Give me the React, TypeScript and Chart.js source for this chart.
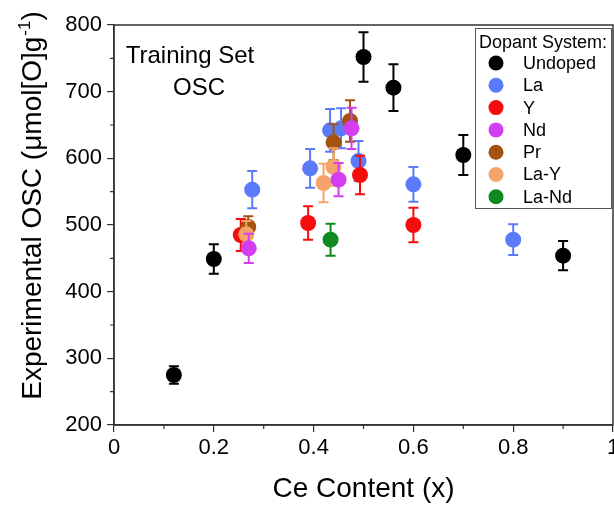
import React, { useEffect, useRef } from "react";
import { Chart, registerables } from "chart.js";

Chart.register(...registerables);

// ---- data ----
const SERIES_NAMES = ["Undoped", "La", "Y", "Nd", "Pr", "La-Y", "La-Nd"];
const SERIES_COLORS = ["#000000", "#5b7cfa", "#f50d0d", "#d23ef0", "#a3520f", "#f4a46a", "#0f8a1f"];
// stacking of the series (higher = drawn later, on top)
const SERIES_LAYER = [0, 1, 2, 5, 3, 4, 6];

const UNDOPED_X = [0.12, 0.2, 0.5, 0.56, 0.7, 0.9];
const UNDOPED_Y = [275, 449, 752, 706, 605, 454];
const UNDOPED_ERR = [13, 22, 37, 35, 30, 22];

const LA_X = [0.277, 0.393, 0.433, 0.455, 0.49, 0.6, 0.8];
const LA_Y = [553, 585, 642, 645, 596, 561, 478];
const LA_ERR = [28, 29, 32, 30, 30, 26, 23];

const Y_X = [0.254, 0.389, 0.493, 0.6];
const Y_Y = [485, 503, 575, 500];
const Y_ERR = [24, 25, 29, 26];

const ND_X = [0.27, 0.45, 0.476];
const ND_Y = [465, 568, 645];
const ND_ERR = [22, 25, 31];

const PR_X = [0.269, 0.44, 0.473];
const PR_Y = [497, 624, 656];
const PR_ERR = [16, 27, 31];

const LAY_X = [0.265, 0.42, 0.44];
const LAY_Y = [486, 563, 587];
const LAY_ERR = [20, 29, 28];

const LAND_X = [0.434];
const LAND_Y = [478];
const LAND_ERR = [24];

const SERIES_X = [UNDOPED_X, LA_X, Y_X, ND_X, PR_X, LAY_X, LAND_X];
const SERIES_Y = [UNDOPED_Y, LA_Y, Y_Y, ND_Y, PR_Y, LAY_Y, LAND_Y];
const SERIES_ERR = [UNDOPED_ERR, LA_ERR, Y_ERR, ND_ERR, PR_ERR, LAY_ERR, LAND_ERR];

const X_TICKS = [0, 0.2, 0.4, 0.6, 0.8, 1];
const X_TICK_LABELS = ["0", "0.2", "0.4", "0.6", "0.8", "1"];
const X_MINOR = [0.1, 0.3, 0.5, 0.7, 0.9];
const Y_TICKS = [200, 300, 400, 500, 600, 700, 800];
const Y_TICK_LABELS = ["200", "300", "400", "500", "600", "700", "800"];
const Y_MINOR = [250, 350, 450, 550, 650, 750];

const X_TITLE = "Ce Content (x)";
const Y_TITLE_MAIN = "Experimental OSC (μmol[O]g";
const Y_TITLE_SUP = "-1";
const Y_TITLE_END = ")";
const NOTE_LINES = ["Training Set", "OSC"];
const LEGEND_TITLE = "Dopant System:";

const FONT = "'Liberation Sans', Arial, sans-serif";
const AXIS_COLOR = "#333333";

const decorations = {
  id: "decorations",
  beforeDatasetDraw(chart: any, args: any) {
    const i = args.index;
    const { ctx, scales } = chart;
    const xs = SERIES_X[i];
    const ys = SERIES_Y[i];
    const errs = SERIES_ERR[i];
    ctx.save();
    ctx.strokeStyle = SERIES_COLORS[i];
    ctx.lineWidth = 2;
    for (let k = 0; k < xs.length; k++) {
      const px = scales.x.getPixelForValue(xs[k]);
      const top = scales.y.getPixelForValue(ys[k] + errs[k]);
      const bot = scales.y.getPixelForValue(ys[k] - errs[k]);
      ctx.beginPath();
      ctx.moveTo(px, top);
      ctx.lineTo(px, bot);
      ctx.moveTo(px - 5, top);
      ctx.lineTo(px + 5, top);
      ctx.moveTo(px - 5, bot);
      ctx.lineTo(px + 5, bot);
      ctx.stroke();
    }
    ctx.restore();
  },
  afterDraw(chart: any) {
    const { ctx, chartArea, scales } = chart;
    const { left, right, top, bottom } = chartArea;
    ctx.save();

    // frame
    ctx.strokeStyle = AXIS_COLOR;
    ctx.lineWidth = 1.5;
    ctx.strokeRect(left, top, right - left, bottom - top);

    // minor ticks
    ctx.lineWidth = 1.2;
    ctx.beginPath();
    for (const v of X_MINOR) {
      const px = scales.x.getPixelForValue(v);
      ctx.moveTo(px, bottom);
      ctx.lineTo(px, bottom + 4);
    }
    for (const v of Y_MINOR) {
      const py = scales.y.getPixelForValue(v);
      ctx.moveTo(left, py);
      ctx.lineTo(left - 4, py);
    }
    ctx.stroke();

    // axis titles
    ctx.fillStyle = "#000";
    ctx.font = `28px ${FONT}`;
    ctx.textAlign = "center";
    ctx.textBaseline = "alphabetic";
    ctx.fillText(X_TITLE, (left + right) / 2, 497);

    ctx.save();
    ctx.translate(41, (top + bottom) / 2 - 19);
    ctx.rotate(-Math.PI / 2);
    ctx.textAlign = "left";
    ctx.font = `28px ${FONT}`;
    const w1 = ctx.measureText(Y_TITLE_MAIN).width;
    const w3 = ctx.measureText(Y_TITLE_END).width;
    ctx.font = `17px ${FONT}`;
    const w2 = ctx.measureText(Y_TITLE_SUP).width;
    const start = -(w1 + w2 + w3) / 2;
    ctx.font = `28px ${FONT}`;
    ctx.fillText(Y_TITLE_MAIN, start, 0);
    ctx.font = `17px ${FONT}`;
    ctx.fillText(Y_TITLE_SUP, start + w1 + 1, -11);
    ctx.font = `28px ${FONT}`;
    ctx.fillText(Y_TITLE_END, start + w1 + w2 + 1, 0);
    ctx.restore();

    // annotation
    ctx.font = `24px ${FONT}`;
    ctx.textAlign = "center";
    ctx.fillText(NOTE_LINES[0], 190, 63);
    ctx.fillText(NOTE_LINES[1], 199, 95);

    // legend
    const lx = 475, ly = 28, lw = 136, lh = 180;
    ctx.fillStyle = "#fff";
    ctx.fillRect(lx, ly, lw, lh);
    ctx.strokeStyle = "#555";
    ctx.lineWidth = 1;
    ctx.strokeRect(lx + 0.5, ly + 0.5, lw, lh);
    ctx.fillStyle = "#000";
    ctx.font = `18px ${FONT}`;
    ctx.textBaseline = "middle";
    ctx.textAlign = "center";
    ctx.fillText(LEGEND_TITLE, lx + lw / 2, 43);
    ctx.textAlign = "left";
    SERIES_NAMES.forEach((name, i) => {
      const cy = 63 + i * 22.3;
      ctx.fillStyle = SERIES_COLORS[i];
      ctx.beginPath();
      ctx.arc(496, cy, 7.5, 0, Math.PI * 2);
      ctx.fill();
      ctx.fillStyle = "#000";
      ctx.fillText(name, 523, cy + 1);
    });

    ctx.restore();
  },
};

export default function App() {
  const canvasRef = useRef<HTMLCanvasElement | null>(null);

  useEffect(() => {
    if (!canvasRef.current) return;
    const datasets = SERIES_NAMES.map((name, i) => ({
      label: name,
      data: SERIES_X[i].map((x, k) => ({ x, y: SERIES_Y[i][k] })),
      backgroundColor: SERIES_COLORS[i],
      borderColor: SERIES_COLORS[i],
      borderWidth: 0,
      pointRadius: 8,
      pointHoverRadius: 8,
      order: SERIES_NAMES.length - SERIES_LAYER[i],
    }));

    const chart = new Chart(canvasRef.current, {
      type: "scatter",
      data: { datasets },
      plugins: [decorations],
      options: {
        responsive: false,
        animation: false,
        events: [],
        layout: { padding: { top: 25, right: 1, left: 0, bottom: 0 }, autoPadding: false },
        plugins: { legend: { display: false }, tooltip: { enabled: false }, title: { display: false } },
        scales: {
          x: {
            type: "linear",
            min: 0,
            max: 1,
            afterFit: (scale: any) => {
              scale.height = 80;
              scale.paddingLeft = 0;
              scale.paddingRight = 0;
            },
            afterBuildTicks: (scale: any) => { scale.ticks = X_TICKS.map((v) => ({ value: v })); },
            ticks: {
              callback: (_v: any, idx: number) => X_TICK_LABELS[idx],
              font: { family: FONT, size: 22 },
              color: "#000",
              padding: 3,
              maxRotation: 0,
              autoSkip: false,
            },
            grid: { display: true, drawOnChartArea: false, drawTicks: true, tickLength: 7, color: AXIS_COLOR, lineWidth: 1.2 },
            border: { display: true, color: AXIS_COLOR, width: 1.5 },
          },
          y: {
            type: "linear",
            min: 200,
            max: 800,
            afterFit: (scale: any) => {
              scale.width = 114;
              scale.paddingTop = 0;
              scale.paddingBottom = 0;
            },
            afterBuildTicks: (scale: any) => { scale.ticks = Y_TICKS.map((v) => ({ value: v })); },
            ticks: {
              callback: (_v: any, idx: number) => Y_TICK_LABELS[idx],
              font: { family: FONT, size: 22 },
              color: "#000",
              padding: 5,
              autoSkip: false,
            },
            grid: { display: true, drawOnChartArea: false, drawTicks: true, tickLength: 7, color: AXIS_COLOR, lineWidth: 1.2 },
            border: { display: true, color: AXIS_COLOR, width: 1.5 },
          },
        },
      } as any,
    });
    return () => chart.destroy();
  }, []);

  return (
    <div style={{ position: "fixed", left: 0, top: 0, width: 614, height: 505, background: "#fff" }}>
      <canvas ref={canvasRef} width={614} height={505} />
    </div>
  );
}
